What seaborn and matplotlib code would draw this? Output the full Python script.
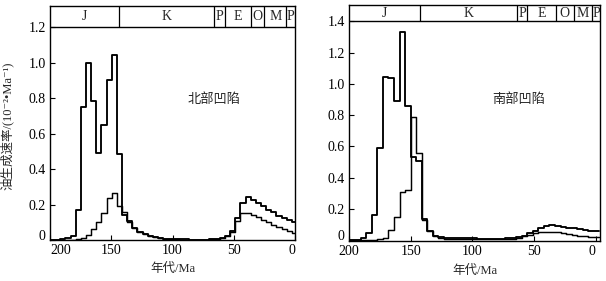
import numpy as np
import pandas as pd
import matplotlib
matplotlib.use("Agg")
import matplotlib.pyplot as plt
import seaborn as sns

# ---------------- data ----------------
# 北部凹陷: step histogram, bins start at 200 Ma, 4.2 Ma wide (older -> younger)
north_start = 200.0
north_width = 4.2
north_upper = [0.0, 0.002, 0.005, 0.01, 0.02, 0.168, 0.753, 1.0, 0.785, 0.49,
               0.65, 0.903, 1.044, 0.485, 0.143, 0.105, 0.07, 0.047, 0.032, 0.022,
               0.016, 0.011, 0.008, 0.006, 0.004, 0.003, 0.003, 0.002, 0.002, 0.002,
               0.002, 0.003, 0.006, 0.012, 0.025, 0.05, 0.125, 0.21, 0.243, 0.228,
               0.21, 0.19, 0.172, 0.157, 0.138, 0.125, 0.113, 0.10]
north_lower = [0.0, 0.0, 0.0, 0.0, 0.0, 0.003, 0.01, 0.03, 0.06, 0.10,
               0.15, 0.235, 0.265, 0.19, 0.16, 0.10, 0.07, 0.047, 0.032, 0.022,
               0.015, 0.01, 0.006, 0.004, 0.003, 0.002, 0.002, 0.002, 0.002, 0.002,
               0.002, 0.003, 0.006, 0.012, 0.02, 0.045, 0.106, 0.15, 0.153, 0.143,
               0.13, 0.115, 0.10, 0.085, 0.072, 0.06, 0.05, 0.04]

# 南部凹陷: bins start at 199.5 Ma, 4.5 Ma wide
south_start = 199.5
south_width = 4.5
south_a = [0.0, 0.003, 0.014, 0.046, 0.162, 0.59, 1.047, 1.04, 0.888, 1.33,
           0.86, 0.53, 0.51, 0.137, 0.06, 0.03, 0.02, 0.015, 0.013, 0.012,
           0.012, 0.011, 0.011, 0.01, 0.01, 0.01, 0.01, 0.01, 0.012, 0.016,
           0.022, 0.03, 0.045, 0.06, 0.075, 0.09, 0.098, 0.092, 0.087, 0.081,
           0.075, 0.07, 0.065, 0.06, 0.056]
south_b = [0.0, 0.0, 0.0, 0.0, 0.002, 0.005, 0.012, 0.067, 0.15, 0.31,
           0.32, 0.79, 0.56, 0.13, 0.06, 0.03, 0.015, 0.01, 0.008, 0.007,
           0.006, 0.006, 0.006, 0.006, 0.006, 0.006, 0.006, 0.006, 0.007, 0.01,
           0.015, 0.025, 0.035, 0.045, 0.05, 0.055, 0.055, 0.05, 0.045, 0.04,
           0.035, 0.03, 0.025, 0.021, 0.018]

# geologic time strip
period_labels = ["J", "K", "P", "E", "O", "M", "P"]
north_bounds = [143.5, 65.8, 57.4, 35.8, 25.0, 7.0]
south_bounds = [142.3, 63.7, 55.5, 32.5, 17.6, 2.7]

north_yticks = [0, 0.2, 0.4, 0.6, 0.8, 1.0, 1.2]
south_yticks = [0, 0.2, 0.4, 0.6, 0.8, 1.0, 1.2, 1.4]
xticks = [200, 150, 100, 50, 0]

titles = ["北部凹陷", "南部凹陷"]
ylabel = "油生成速率/(10⁻²•Ma⁻¹)"
xlabel = "年代/Ma"

# ---------------- style ----------------
sns.set_theme(style="ticks")
serif = ["Liberation Serif", "Noto Sans CJK SC", "DejaVu Sans"]
plt.rcParams["font.family"] = serif
plt.rcParams["axes.linewidth"] = 1.0
plt.rcParams["axes.unicode_minus"] = False

fig = plt.figure(figsize=(6.06, 2.81), dpi=100)
axL = fig.add_axes([50 / 606, 41 / 281, 245 / 606, 234 / 281])
axR = fig.add_axes([349 / 606, 40 / 281, 251 / 606, 236 / 281])


def make_df(start, width, a, b):
    n = len(a)
    edges = start - width * np.arange(n + 1)
    centers = (edges[:-1] + edges[1:]) / 2
    df = pd.DataFrame({"age": np.concatenate([centers, centers]),
                       "rate": np.concatenate([a, b]),
                       "series": ["a"] * n + ["b"] * n})
    return df, sorted(edges.tolist())


def draw(ax, df, edges, xlim, ylim, strip_bottom, bounds, yticks, title, tpos,
         first_ha):
    for s, lw in [("a", 1.35), ("b", 1.05)]:
        sub = df[df["series"] == s]
        sns.histplot(data=sub, x="age", weights="rate", bins=edges,
                     element="step", fill=False, color="black",
                     linewidth=lw, ax=ax)
    ax.set_xlim(*xlim)
    ax.set_ylim(*ylim)
    ax.set_xticks(xticks)
    ax.set_xticklabels([str(t) for t in xticks])
    ax.set_yticks(yticks)
    ax.set_yticklabels(["0" if t == 0 else f"{t:.1f}" for t in yticks])
    ax.tick_params(direction="in", length=3.5, width=0.8, labelsize=10,
                   colors="black", pad=3)
    xl = ax.get_xticklabels()
    xl[0].set_ha(first_ha)
    xl[-1].set_ha("right")
    ax.get_yticklabels()[0].set_va("baseline")
    for sp in ax.spines.values():
        sp.set_visible(True)
        sp.set_color("black")
    ax.set_ylabel("")
    ax.set_xlabel(xlabel, fontsize=9)
    ax.xaxis.set_label_coords(0.5, -0.1)
    # time strip
    ax.axhline(strip_bottom, color="black", lw=1.0)
    ax.vlines(bounds, strip_bottom, ylim[1], color="black", lw=0.9)
    edges_s = [xlim[0]] + list(bounds) + [xlim[1]]
    ymid = (strip_bottom + ylim[1]) / 2
    for i, lab in enumerate(period_labels):
        ax.text((edges_s[i] + edges_s[i + 1]) / 2, ymid, lab, ha="center",
                va="center", fontsize=10, family=serif)
    ax.text(tpos[0], tpos[1], title, ha="center", va="center", fontsize=9.5,
            family=["Noto Sans CJK SC", "DejaVu Sans"])


dfN, edgesN = make_df(north_start, north_width, north_upper, north_lower)
dfS, edgesS = make_df(south_start, south_width, south_a, south_b)

draw(axL, dfN, edgesN, (200, 0), (0, 1.32), 1.2, north_bounds,
     north_yticks, titles[0], (66, 0.79), "left")
draw(axR, dfS, edgesS, (200, -3.5), (-0.005, 1.505), 1.4, south_bounds,
     south_yticks, titles[1], (62, 0.90), "center")

axL.set_ylabel(ylabel, fontsize=9)
axL.yaxis.set_label_coords(-0.15, 0.49)

fig.savefig("out.png", dpi=100)
